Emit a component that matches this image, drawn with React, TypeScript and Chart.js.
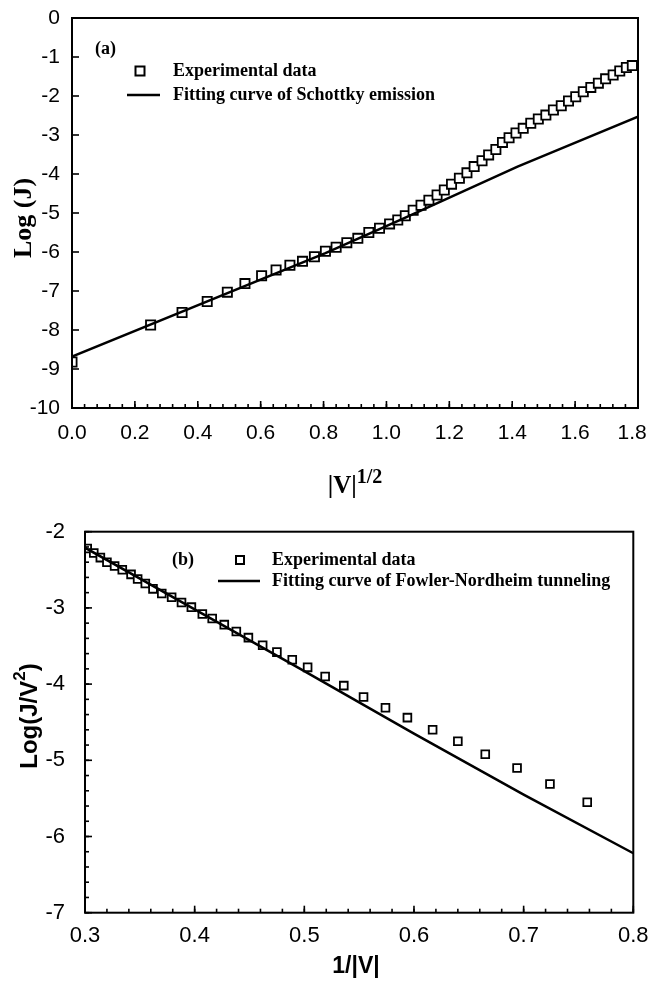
import React, { useEffect, useRef } from 'react';
import { Chart, registerables } from 'chart.js';

Chart.register(...registerables);

// ---------- Panel (a): Schottky emission ----------
const schottkyExpX = [
  0.0, 0.25, 0.35, 0.43, 0.494, 0.55, 0.603, 0.649, 0.693, 0.733, 0.771, 0.806,
  0.84, 0.874, 0.909, 0.944, 0.978, 1.01, 1.036, 1.06, 1.085, 1.11, 1.135, 1.161,
  1.184, 1.207, 1.232, 1.256, 1.279, 1.304, 1.325, 1.348, 1.369, 1.39, 1.412, 1.435,
  1.459, 1.483, 1.507, 1.531, 1.556, 1.579, 1.602, 1.626, 1.65, 1.674, 1.697, 1.721,
  1.742, 1.763, 1.782,
];
const schottkyExpY = [
  -8.82, -7.87, -7.55, -7.27, -7.03, -6.81, -6.61, -6.46, -6.34, -6.24, -6.12, -5.98,
  -5.88, -5.76, -5.65, -5.5, -5.39, -5.28, -5.18, -5.07, -4.93, -4.8, -4.67, -4.54,
  -4.41, -4.26, -4.11, -3.97, -3.81, -3.66, -3.51, -3.37, -3.19, -3.07, -2.95, -2.83,
  -2.7, -2.59, -2.49, -2.36, -2.25, -2.13, -2.02, -1.89, -1.78, -1.67, -1.56, -1.46,
  -1.36, -1.27, -1.22,
];
const schottkyFitX = [0.0, 0.806, 1.062, 1.417, 1.507, 1.8];
const schottkyFitY = [-8.68, -6.03, -5.11, -3.81, -3.51, -2.53];
const schottkyXTicks = [0, 1.8, 0.2, 0.04]; // min, max, major step, minor step
const schottkyYTicks = [-10, 0, 1];

// ---------- Panel (b): Fowler-Nordheim tunneling ----------
const fnExpX = [
  0.302, 0.308, 0.314, 0.32, 0.327, 0.334, 0.342, 0.348, 0.355, 0.362, 0.37, 0.379,
  0.388, 0.397, 0.407, 0.416, 0.427, 0.438, 0.449, 0.462, 0.475, 0.489, 0.503, 0.519,
  0.536, 0.554, 0.574, 0.594, 0.617, 0.64, 0.665, 0.694, 0.724, 0.758,
];
const fnExpY = [
  -2.22, -2.28, -2.34, -2.4, -2.45, -2.5, -2.56, -2.62, -2.68, -2.75, -2.81, -2.86,
  -2.93, -2.99, -3.08, -3.14, -3.22, -3.31, -3.39, -3.49, -3.58, -3.68, -3.78, -3.9,
  -4.02, -4.17, -4.31, -4.44, -4.6, -4.75, -4.92, -5.1, -5.31, -5.55,
];
const fnFitX = [0.3, 0.4, 0.5, 0.6, 0.7, 0.8];
const fnFitY = [-2.21, -3.02, -3.83, -4.65, -5.45, -6.22];
const fnXTicks = [0.3, 0.8, 0.1, 0.02];
const fnYTicks = [-7, -2, 1, 0.2];

const legendExp = 'Experimental data';
const legendFitA = 'Fitting curve of Schottky emission';
const legendFitB = 'Fitting curve of Fowler-Nordheim tunneling';

const SANS = "'Liberation Sans', Arial, sans-serif";
const SERIF = "'Liberation Serif', 'Times New Roman', serif";

const pts = (xs: number[], ys: number[]) => xs.map((x, i) => ({ x, y: ys[i] }));

type Seg = { t: string; font: string; dy: number };

function drawRich(ctx: CanvasRenderingContext2D, segs: Seg[], cx: number, cy: number, rot: number) {
  ctx.save();
  ctx.translate(cx, cy);
  ctx.rotate(rot);
  ctx.textBaseline = 'alphabetic';
  ctx.textAlign = 'left';
  let total = 0;
  const widths = segs.map((s) => {
    ctx.font = s.font;
    const w = ctx.measureText(s.t).width;
    total += w;
    return w;
  });
  let x = -total / 2;
  segs.forEach((s, i) => {
    ctx.font = s.font;
    ctx.fillText(s.t, x, s.dy);
    x += widths[i];
  });
  ctx.restore();
}

const decor = {
  id: 'decor',
  afterDraw(chart: any, _args: any, o: any) {
    const { ctx, chartArea: a, scales } = chart;
    const xs = scales.x;
    const ys = scales.y;
    ctx.save();
    ctx.strokeStyle = '#000';
    ctx.fillStyle = '#000';
    // frame
    ctx.lineWidth = 2;
    ctx.strokeRect(a.left, a.top, a.right - a.left, a.bottom - a.top);
    // inward ticks
    ctx.lineWidth = 1.6;
    const line = (x1: number, y1: number, x2: number, y2: number) => {
      ctx.beginPath();
      ctx.moveTo(x1, y1);
      ctx.lineTo(x2, y2);
      ctx.stroke();
    };
    const steps = (min: number, max: number, step: number) => {
      const n = Math.round((max - min) / step);
      const out: number[] = [];
      for (let i = 0; i <= n; i++) out.push(min + i * step);
      return out;
    };
    if (o.xMinor) steps(xs.min, xs.max, o.xMinor).forEach((v) => {
      const p = xs.getPixelForValue(v);
      line(p, a.bottom, p, a.bottom - o.minorLen);
    });
    xs.ticks.forEach((t: any) => {
      const p = xs.getPixelForValue(t.value);
      line(p, a.bottom, p, a.bottom - o.majorLen);
    });
    if (o.yMinor) steps(ys.min, ys.max, o.yMinor).forEach((v) => {
      const p = ys.getPixelForValue(v);
      line(a.left, p, a.left + o.minorLen, p);
    });
    ys.ticks.forEach((t: any) => {
      const p = ys.getPixelForValue(t.value);
      line(a.left, p, a.left + o.majorLen, p);
    });
    // legend
    const lg = o.legend;
    ctx.font = lg.font;
    ctx.textBaseline = 'middle';
    ctx.textAlign = 'left';
    ctx.fillText(lg.tag, lg.tagX, lg.tagY);
    ctx.fillText(lg.exp, lg.textX, lg.expY);
    ctx.fillText(lg.fit, lg.textX, lg.fitY);
    ctx.lineWidth = 2;
    ctx.fillStyle = '#fff';
    ctx.fillRect(lg.sqX - lg.sq / 2, lg.expY - lg.sq / 2, lg.sq, lg.sq);
    ctx.strokeRect(lg.sqX - lg.sq / 2, lg.expY - lg.sq / 2, lg.sq, lg.sq);
    ctx.lineWidth = 2.5;
    line(lg.lineX1, lg.fitY, lg.lineX2, lg.fitY);
    ctx.fillStyle = '#000';
    // axis titles
    drawRich(ctx, o.xTitle.segs, o.xTitle.x, o.xTitle.y, 0);
    drawRich(ctx, o.yTitle.segs, o.yTitle.x, o.yTitle.y, -Math.PI / 2);
    ctx.restore();
  },
};

function makeConfig(p: any) {
  return {
    type: 'scatter',
    data: {
      datasets: [
        {
          label: legendExp,
          data: pts(p.expX, p.expY),
          showLine: false,
          pointStyle: 'rect',
          pointRadius: p.pointRadius,
          pointBorderWidth: 1.8,
          pointBackgroundColor: '#fff',
          pointBorderColor: '#000',
          order: 2,
        },
        {
          label: p.fitLabel,
          type: 'line',
          data: pts(p.fitX, p.fitY),
          showLine: true,
          pointRadius: 0,
          borderColor: '#000',
          borderWidth: 2.5,
          tension: 0,
          fill: false,
          order: 1,
        },
      ],
    },
    options: {
      animation: false,
      responsive: false,
      events: [],
      layout: { padding: { top: p.padTop, right: p.padRight, left: 0, bottom: 0 } },
      plugins: {
        legend: { display: false },
        tooltip: { enabled: false },
        decor: p.decor,
      },
      scales: {
        x: {
          type: 'linear',
          min: p.xTicks[0],
          max: p.xTicks[1],
          afterFit: (s: any) => {
            s.height = p.xAxisH;
            s.paddingLeft = 0;
            s.paddingRight = 0;
          },
          ticks: {
            stepSize: p.xTicks[2],
            autoSkip: false,
            maxRotation: 0,
            padding: p.xPad,
            color: '#000',
            font: { family: SANS, size: p.tickSize },
            callback: (v: any) => {
              const s = Number(v).toFixed(1);
              // keep the last label inside the page: pad it on the right
              return p.padLastX && Math.abs(Number(v) - p.xTicks[1]) < 1e-9 ? s + '\u00a0\u00a0' : s;
            },
          },
          grid: { display: false, drawTicks: false },
          border: { display: false },
        },
        y: {
          type: 'linear',
          min: p.yTicks[0],
          max: p.yTicks[1],
          afterFit: (s: any) => {
            s.width = p.yAxisW;
            s.paddingTop = 0;
            s.paddingBottom = 0;
          },
          ticks: {
            stepSize: p.yTicks[2],
            autoSkip: false,
            padding: p.yPad,
            color: '#000',
            font: { family: SANS, size: p.tickSize },
            callback: (v: any) => String(Math.round(Number(v))),
          },
          grid: { display: false, drawTicks: false },
          border: { display: false },
        },
      },
    },
    plugins: [decor],
  };
}

export default function App() {
  const topRef = useRef<HTMLCanvasElement>(null);
  const botRef = useRef<HTMLCanvasElement>(null);

  useEffect(() => {
    const top = new Chart(topRef.current as any, makeConfig({
      expX: schottkyExpX, expY: schottkyExpY, fitX: schottkyFitX, fitY: schottkyFitY,
      fitLabel: legendFitA, xTicks: schottkyXTicks, yTicks: schottkyYTicks,
      pointRadius: 6.5, padTop: 18, padRight: 11, xAxisH: 97, yAxisW: 72,
      xPad: 13, yPad: 12, tickSize: 21, padLastX: true,
      decor: {
        xMinor: schottkyXTicks[3], yMinor: 0, majorLen: 7, minorLen: 4,
        legend: {
          font: `bold 18px ${SERIF}`, tag: '(a)', tagX: 95, tagY: 49,
          exp: legendExp, fit: legendFitA, textX: 173, expY: 71, fitY: 95,
          sqX: 140, sq: 9, lineX1: 127, lineX2: 160,
        },
        xTitle: { x: 355, y: 493, segs: [
          { t: '|V|', font: `bold 25px ${SERIF}`, dy: 0 },
          { t: '1/2', font: `bold 20px ${SERIF}`, dy: -10 },
        ] },
        yTitle: { x: 31, y: 218, segs: [
          { t: 'Log (J)', font: `bold 26px ${SERIF}`, dy: 0 },
        ] },
      },
    }) as any);
    const bot = new Chart(botRef.current as any, makeConfig({
      expX: fnExpX, expY: fnExpY, fitX: fnFitX, fitY: fnFitY,
      fitLabel: legendFitB, xTicks: fnXTicks, yTicks: fnYTicks,
      pointRadius: 5.5, padTop: 26.7, padRight: 15.7, xAxisH: 79.3, yAxisW: 85,
      xPad: 10, yPad: 20, tickSize: 22, padLastX: false,
      decor: {
        xMinor: fnXTicks[3], yMinor: fnYTicks[3], majorLen: 7, minorLen: 4,
        legend: {
          font: `bold 18px ${SERIF}`, tag: '(b)', tagX: 172, tagY: 55,
          exp: legendExp, fit: legendFitB, textX: 272, expY: 55, fitY: 76,
          sqX: 240, sq: 8, lineX1: 218, lineX2: 260,
        },
        xTitle: { x: 356, y: 468, segs: [
          { t: '1/|V|', font: `bold 23px ${SANS}`, dy: 0 },
        ] },
        yTitle: { x: 37, y: 211, segs: [
          { t: 'Log(J/V', font: `bold 24px ${SANS}`, dy: 0 },
          { t: '2', font: `bold 17px ${SANS}`, dy: -12 },
          { t: ')', font: `bold 24px ${SANS}`, dy: 0 },
        ] },
      },
    }) as any);
    return () => {
      top.destroy();
      bot.destroy();
    };
  }, []);

  return (
    <div style={{ position: 'fixed', left: 0, top: 0, width: 649, height: 992, background: '#fff', overflow: 'hidden' }}>
      <div style={{ position: 'absolute', left: 0, top: 0 }}>
        <canvas ref={topRef} width={649} height={505} style={{ display: 'block', width: 649, height: 505 }} />
      </div>
      <div style={{ position: 'absolute', left: 0, top: 505 }}>
        <canvas ref={botRef} width={649} height={487} style={{ display: 'block', width: 649, height: 487 }} />
      </div>
    </div>
  );
}
